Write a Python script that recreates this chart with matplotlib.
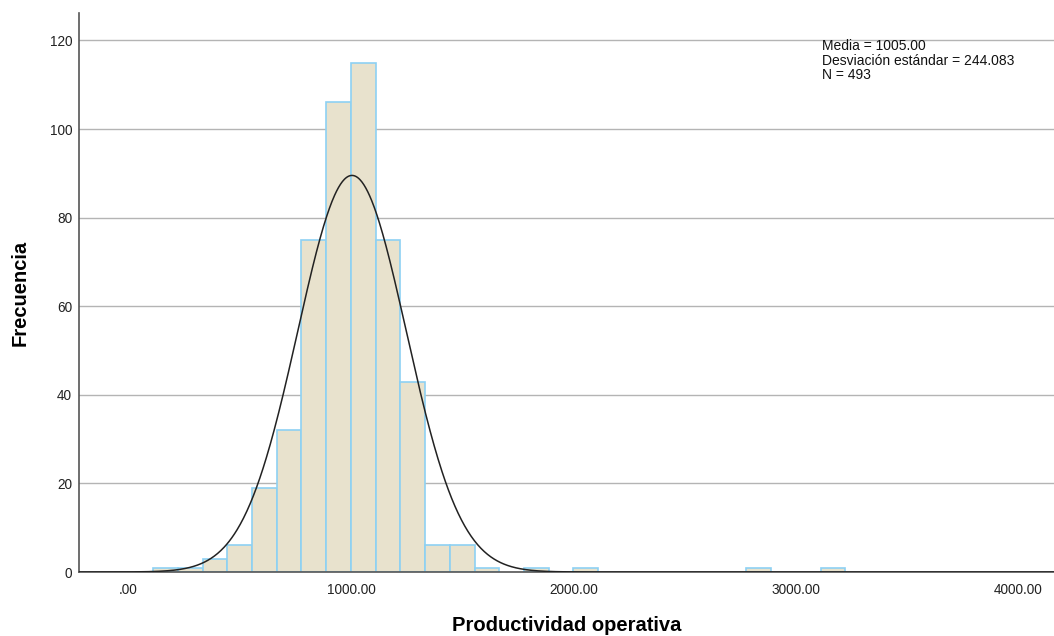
import matplotlib
matplotlib.use("Agg")
import matplotlib.pyplot as plt
import numpy as np

# histogram of productividad operativa (SPSS-style)
bin_width = 1000 / 9
bin_index = [1, 2, 3, 4, 5, 6, 7, 8, 9, 10, 11, 12, 13, 14, 16, 18, 25, 28]
counts = [1, 1, 3, 6, 19, 32, 75, 106, 115, 75, 43, 6, 6, 1, 1, 1, 1, 1]

media = 1005.00
desv = 244.083
n = 493

x_ticks = [0, 1000, 2000, 3000, 4000]
x_labels = [".00", "1000.00", "2000.00", "3000.00", "4000.00"]
y_ticks = [0, 20, 40, 60, 80, 100, 120]

plt.rcParams["font.family"] = ["Liberation Sans", "DejaVu Sans"]

fig = plt.figure(figsize=(10.54, 6.36), dpi=100)
ax = fig.add_axes([79 / 1054, 64 / 636, 975 / 1054, 559 / 636])

xmin, xmax = -222, 4160
ax.set_xlim(xmin, xmax)
ax.set_ylim(0, 126.2)

ax.yaxis.grid(True, color="#b4b4b4", linewidth=1.0)
ax.set_axisbelow(True)

lefts = [k * bin_width for k in bin_index]
ax.bar(lefts, counts, width=bin_width, align="edge",
       color="#e8e2cd", edgecolor="#8dd1f3", linewidth=1.2, zorder=2)

xs = np.linspace(xmin, xmax, 1500)
pdf = n * bin_width / (desv * np.sqrt(2 * np.pi)) * np.exp(-0.5 * ((xs - media) / desv) ** 2)
ax.plot(xs, pdf, color="#222222", linewidth=1.1, zorder=3)

ax.set_xticks(x_ticks)
ax.set_xticklabels(x_labels)
ax.set_yticks(y_ticks)
ax.tick_params(length=0, labelsize=9.8, colors="#222222")
ax.tick_params(axis="x", pad=8)
ax.tick_params(axis="y", pad=5)

for side in ["top", "right"]:
    ax.spines[side].set_visible(False)
for side in ["left", "bottom"]:
    ax.spines[side].set_color("#555555")
    ax.spines[side].set_linewidth(1.2)

ax.set_xlabel("Productividad operativa", fontsize=14.5, fontweight="bold", labelpad=13.5)
ax.set_ylabel("Frecuencia", fontsize=14.5, fontweight="bold", labelpad=14)

info = f"Media = {media:.2f}\nDesviación estándar = {desv:.3f}\nN = {n}"
ax.text(822 / 1054, 1 - 39 / 636, info, transform=fig.transFigure,
        fontsize=10, va="top", ha="left", linespacing=1.05, color="#111111")

fig.savefig("out.png", dpi=100)
